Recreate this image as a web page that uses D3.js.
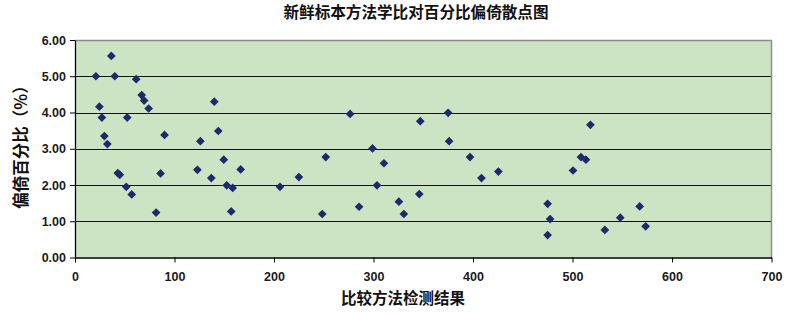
<!DOCTYPE html>
<html>
<head>
<meta charset="utf-8">
<script src="https://cdn.jsdelivr.net/npm/d3@7"></script>
<style>
  body { margin: 0; background: #fff; }
  svg text { font-family: "Liberation Sans", Arial, sans-serif; }
  .cjk { font-family: "Noto Sans CJK SC", sans-serif; }
</style>
</head>
<body>
<svg id="drawing_region"></svg>
<script>
// comparison method result (x) and percent bias (y)
const xValues = [
    21, 36.5, 40, 61.5, 24.5, 27, 52.5, 67, 69.5, 74,
    29.5, 32.5, 90, 43, 45, 51.5, 57, 81.5, 86, 140,
    144, 126, 123, 137, 149.5, 152.5, 158.5, 166.5, 157, 206,
    225, 252, 248.5, 276.5, 285.5, 299, 303.5, 310.5, 325.5, 330.5,
    347, 346, 375, 376, 397, 408.5, 425.5, 475, 477.5, 475,
    500.5, 508.5, 513.5, 518, 532.5, 548, 567.5, 573.5
];
const yValues = [
    5.00, 5.56, 5.00, 4.92, 4.16, 3.86, 3.86, 4.48, 4.33, 4.11,
    3.35, 3.13, 3.38, 2.33, 2.28, 1.95, 1.74, 1.24, 2.32, 4.30,
    3.49, 3.21, 2.42, 2.19, 2.70, 1.99, 1.92, 2.43, 1.27, 1.95,
    2.22, 2.77, 1.20, 3.96, 1.40, 3.01, 1.99, 2.60, 1.54, 1.20,
    3.76, 1.75, 3.99, 3.21, 2.77, 2.19, 2.37, 1.48, 1.06, 0.62,
    2.40, 2.77, 2.70, 3.66, 0.76, 1.10, 1.41, 0.86
];
const xTicks = [0, 100, 200, 300, 400, 500, 600, 700];
const yTicks = [0, 1, 2, 3, 4, 5, 6];
const titleText = "新鲜标本方法学比对百分比偏倚散点图";
const xLabel = "比较方法检测结果";
const yLabel = "偏倚百分比（%）";

const data = xValues.map((x, i) => ({ x: x, y: yValues[i] }));

const config = {
    width: 788,
    height: 316,
    margin: { top: 40, right: 16, bottom: 58, left: 75 }
};

const svg = d3.select('#drawing_region')
    .attr('width', config.width)
    .attr('height', config.height);

const inner_width = 771.5 - config.margin.left;
const inner_height = 257.5 - config.margin.top;

const chart = svg.append('g')
    .attr('transform', `translate(${config.margin.left}, ${config.margin.top})`);

const xscale = d3.scaleLinear().domain([0, 700]).range([0, inner_width]);
const yscale = d3.scaleLinear().domain([0, 6]).range([inner_height, 0]);

// plot area
chart.append('rect')
    .attr('width', inner_width)
    .attr('height', inner_height)
    .attr('fill', '#cce4c4');

// gridlines
chart.selectAll('.grid').data(yTicks.filter(d => d > 0 && d < 6))
    .enter().append('line')
    .attr('x1', 0).attr('x2', inner_width)
    .attr('y1', d => Math.round(yscale(d)) + 0.5)
    .attr('y2', d => Math.round(yscale(d)) + 0.5)
    .attr('stroke', '#111')
    .attr('stroke-width', 1.2);

// top and right borders
chart.append('path')
    .attr('d', `M0,0.5H${inner_width}V${inner_height}`)
    .attr('fill', 'none')
    .attr('stroke', '#8c8c8c')
    .attr('stroke-width', 1.5);

const xaxis = d3.axisBottom(xscale).tickValues(xTicks).tickSize(5).tickSizeOuter(0)
    .tickFormat(d3.format('d'));
const yaxis = d3.axisLeft(yscale).tickValues(yTicks).tickSize(5).tickSizeOuter(0)
    .tickFormat(d3.format('.2f'));

const xg = chart.append('g')
    .attr('transform', `translate(0, ${inner_height})`)
    .call(xaxis);
const yg = chart.append('g').call(yaxis);

[xg, yg].forEach(g => {
    g.select('.domain').attr('stroke', '#000').attr('stroke-width', 1.3);
    g.selectAll('.tick line').attr('stroke', '#000');
    g.selectAll('.tick text')
        .attr('fill', '#1a1a1a')
        .attr('font-size', '12.5px')
        .attr('font-weight', 'bold');
});
xg.selectAll('.tick text').attr('dy', '1.2em');
yg.selectAll('.tick text').attr('dx', '-1px');

// points
const diamond = d3.symbol().type(d3.symbolSquare).size(38);
chart.selectAll('.pt').data(data)
    .enter().append('path')
    .attr('class', 'pt')
    .attr('d', diamond)
    .attr('transform', d => `translate(${xscale(d.x)}, ${yscale(d.y)}) rotate(45)`)
    .attr('fill', '#1c2a6b');

// title and axis labels
svg.append('text')
    .attr('class', 'cjk')
    .attr('x', 416).attr('y', 18)
    .attr('text-anchor', 'middle')
    .attr('font-size', '15.6px')
    .attr('font-weight', 'bold')
    .attr('fill', '#111')
    .text(titleText);

svg.append('text')
    .attr('class', 'cjk')
    .attr('x', 403).attr('y', 304)
    .attr('text-anchor', 'middle')
    .attr('font-size', '15.5px')
    .attr('font-weight', 'bold')
    .attr('fill', '#111')
    .text(xLabel);

svg.append('text')
    .attr('class', 'cjk')
    .attr('transform', 'translate(27, 143) rotate(-90)')
    .attr('text-anchor', 'middle')
    .attr('font-size', '16.5px')
    .attr('font-weight', 'bold')
    .attr('fill', '#111')
    .text(yLabel);
</script>
</body>
</html>
